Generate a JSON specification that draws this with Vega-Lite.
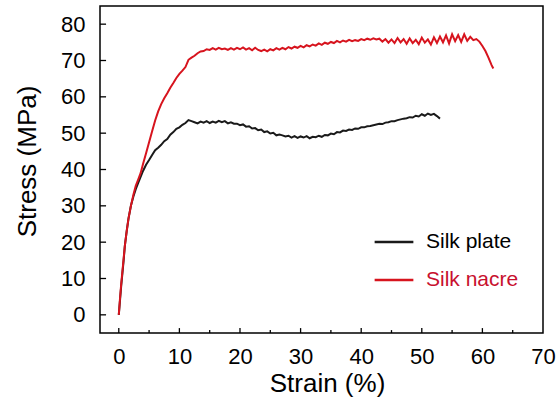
{
  "$schema": "https://vega.github.io/schema/vega-lite/v6.json",
  "autosize": {"type": "none"},
  "padding": {"left": 100, "top": 6, "right": 16, "bottom": 78},
  "width": 443,
  "height": 327,
  "background": "white",
  "config": {
    "view": {"stroke": "#000000", "strokeWidth": 1.5},
    "font": "Liberation Sans"
  },
  "datasets": {
    "curves": [
    {"s":"Silk plate","x":0,"y":0},{"s":"Silk plate","x":0.2,"y":4},{"s":"Silk plate","x":0.4,"y":8},{"s":"Silk plate","x":0.6,"y":11.5},{"s":"Silk plate","x":0.8,"y":15},{"s":"Silk plate","x":1.0,"y":19},{"s":"Silk plate","x":1.3,"y":23},{"s":"Silk plate","x":1.6,"y":26.5},{"s":"Silk plate","x":2.0,"y":30},{"s":"Silk plate","x":2.4,"y":32.5},{"s":"Silk plate","x":2.8,"y":34.6},{"s":"Silk plate","x":3.2,"y":36.3},{"s":"Silk plate","x":3.6,"y":38},{"s":"Silk plate","x":4.0,"y":39.6},{"s":"Silk plate","x":4.5,"y":41.3},{"s":"Silk plate","x":5.0,"y":42.6},{"s":"Silk plate","x":5.5,"y":44},{"s":"Silk plate","x":6.0,"y":45.3},{"s":"Silk plate","x":6.5,"y":46},{"s":"Silk plate","x":7.0,"y":46.8},{"s":"Silk plate","x":7.5,"y":47.8},{"s":"Silk plate","x":8.0,"y":48.4},{"s":"Silk plate","x":8.5,"y":49.6},{"s":"Silk plate","x":9.0,"y":50.3},{"s":"Silk plate","x":9.5,"y":51.2},{"s":"Silk plate","x":10.0,"y":51.6},{"s":"Silk plate","x":10.5,"y":52.3},{"s":"Silk plate","x":11.0,"y":52.8},{"s":"Silk plate","x":11.5,"y":53.6},{"s":"Silk plate","x":12.0,"y":53.3},{"s":"Silk plate","x":12.5,"y":53.0},{"s":"Silk plate","x":13.0,"y":52.7},{"s":"Silk plate","x":13.5,"y":53.2},{"s":"Silk plate","x":14.0,"y":52.9},{"s":"Silk plate","x":14.5,"y":53.3},{"s":"Silk plate","x":15.0,"y":52.8},{"s":"Silk plate","x":15.5,"y":53.2},{"s":"Silk plate","x":16.0,"y":52.9},{"s":"Silk plate","x":16.5,"y":53.4},{"s":"Silk plate","x":17.0,"y":53.0},{"s":"Silk plate","x":17.5,"y":53.3},{"s":"Silk plate","x":18.0,"y":52.7},{"s":"Silk plate","x":18.5,"y":53.0},{"s":"Silk plate","x":19.0,"y":52.6},{"s":"Silk plate","x":19.5,"y":52.6},{"s":"Silk plate","x":20.0,"y":52.2},{"s":"Silk plate","x":20.5,"y":52.4},{"s":"Silk plate","x":21.0,"y":51.8},{"s":"Silk plate","x":21.5,"y":51.9},{"s":"Silk plate","x":22.0,"y":51.3},{"s":"Silk plate","x":22.5,"y":51.4},{"s":"Silk plate","x":23.0,"y":50.8},{"s":"Silk plate","x":23.5,"y":51.0},{"s":"Silk plate","x":24.0,"y":50.3},{"s":"Silk plate","x":24.5,"y":50.5},{"s":"Silk plate","x":25.0,"y":49.9},{"s":"Silk plate","x":25.5,"y":50.1},{"s":"Silk plate","x":26.0,"y":49.4},{"s":"Silk plate","x":26.5,"y":49.6},{"s":"Silk plate","x":27.0,"y":49.4},{"s":"Silk plate","x":27.5,"y":49.1},{"s":"Silk plate","x":28.0,"y":49.3},{"s":"Silk plate","x":28.5,"y":48.8},{"s":"Silk plate","x":29.0,"y":49.2},{"s":"Silk plate","x":29.5,"y":48.7},{"s":"Silk plate","x":30.0,"y":49.1},{"s":"Silk plate","x":30.5,"y":48.8},{"s":"Silk plate","x":31.0,"y":49.2},{"s":"Silk plate","x":31.5,"y":48.6},{"s":"Silk plate","x":32.0,"y":49.0},{"s":"Silk plate","x":32.5,"y":48.9},{"s":"Silk plate","x":33.0,"y":49.3},{"s":"Silk plate","x":33.5,"y":49.0},{"s":"Silk plate","x":34.0,"y":49.5},{"s":"Silk plate","x":34.5,"y":49.4},{"s":"Silk plate","x":35.0,"y":49.9},{"s":"Silk plate","x":35.5,"y":49.7},{"s":"Silk plate","x":36.0,"y":50.3},{"s":"Silk plate","x":36.5,"y":50.2},{"s":"Silk plate","x":37.0,"y":50.7},{"s":"Silk plate","x":37.5,"y":50.6},{"s":"Silk plate","x":38.0,"y":51.0},{"s":"Silk plate","x":38.5,"y":50.9},{"s":"Silk plate","x":39.0,"y":51.3},{"s":"Silk plate","x":39.5,"y":51.2},{"s":"Silk plate","x":40.0,"y":51.6},{"s":"Silk plate","x":40.5,"y":51.6},{"s":"Silk plate","x":41.0,"y":51.9},{"s":"Silk plate","x":41.5,"y":52.0},{"s":"Silk plate","x":42.0,"y":52.2},{"s":"Silk plate","x":42.5,"y":52.4},{"s":"Silk plate","x":43.0,"y":52.6},{"s":"Silk plate","x":43.5,"y":52.5},{"s":"Silk plate","x":44.0,"y":52.9},{"s":"Silk plate","x":44.5,"y":53.0},{"s":"Silk plate","x":45.0,"y":53.3},{"s":"Silk plate","x":45.5,"y":53.3},{"s":"Silk plate","x":46.0,"y":53.6},{"s":"Silk plate","x":46.5,"y":53.8},{"s":"Silk plate","x":47.0,"y":54.0},{"s":"Silk plate","x":47.5,"y":54.1},{"s":"Silk plate","x":48.0,"y":54.4},{"s":"Silk plate","x":48.5,"y":54.3},{"s":"Silk plate","x":49.0,"y":54.8},{"s":"Silk plate","x":49.5,"y":54.6},{"s":"Silk plate","x":50.0,"y":55.2},{"s":"Silk plate","x":50.5,"y":54.8},{"s":"Silk plate","x":51.0,"y":55.4},{"s":"Silk plate","x":51.5,"y":55.0},{"s":"Silk plate","x":52.0,"y":55.3},{"s":"Silk plate","x":52.5,"y":54.7},{"s":"Silk plate","x":53.0,"y":54.0},
    {"s":"Silk nacre","x":0,"y":0},{"s":"Silk nacre","x":0.2,"y":4.5},{"s":"Silk nacre","x":0.4,"y":8.5},{"s":"Silk nacre","x":0.6,"y":12},{"s":"Silk nacre","x":0.8,"y":15.5},{"s":"Silk nacre","x":1.0,"y":19},{"s":"Silk nacre","x":1.3,"y":23},{"s":"Silk nacre","x":1.6,"y":26.5},{"s":"Silk nacre","x":2.0,"y":30},{"s":"Silk nacre","x":2.4,"y":33},{"s":"Silk nacre","x":2.8,"y":35.5},{"s":"Silk nacre","x":3.2,"y":37.2},{"s":"Silk nacre","x":3.6,"y":39},{"s":"Silk nacre","x":4.0,"y":41.5},{"s":"Silk nacre","x":4.5,"y":44.5},{"s":"Silk nacre","x":5.0,"y":47.5},{"s":"Silk nacre","x":5.5,"y":50.5},{"s":"Silk nacre","x":6.0,"y":53.5},{"s":"Silk nacre","x":6.5,"y":56},{"s":"Silk nacre","x":7.0,"y":58},{"s":"Silk nacre","x":7.5,"y":59.6},{"s":"Silk nacre","x":8.0,"y":61},{"s":"Silk nacre","x":8.5,"y":62.5},{"s":"Silk nacre","x":9.0,"y":63.8},{"s":"Silk nacre","x":9.5,"y":65.2},{"s":"Silk nacre","x":10.0,"y":66.3},{"s":"Silk nacre","x":10.5,"y":67.2},{"s":"Silk nacre","x":11.0,"y":68.2},{"s":"Silk nacre","x":11.5,"y":70.2},{"s":"Silk nacre","x":12.0,"y":70.8},{"s":"Silk nacre","x":12.5,"y":71.3},{"s":"Silk nacre","x":13.0,"y":72.0},{"s":"Silk nacre","x":13.5,"y":72.5},{"s":"Silk nacre","x":14.0,"y":72.6},{"s":"Silk nacre","x":14.5,"y":73.1},{"s":"Silk nacre","x":15.0,"y":72.9},{"s":"Silk nacre","x":15.5,"y":73.4},{"s":"Silk nacre","x":16.0,"y":73.0},{"s":"Silk nacre","x":16.5,"y":73.5},{"s":"Silk nacre","x":17.0,"y":73.1},{"s":"Silk nacre","x":17.5,"y":73.3},{"s":"Silk nacre","x":18.0,"y":72.9},{"s":"Silk nacre","x":18.5,"y":73.4},{"s":"Silk nacre","x":19.0,"y":73.0},{"s":"Silk nacre","x":19.5,"y":73.5},{"s":"Silk nacre","x":20.0,"y":73.1},{"s":"Silk nacre","x":20.5,"y":73.6},{"s":"Silk nacre","x":21.0,"y":73.0},{"s":"Silk nacre","x":21.5,"y":73.4},{"s":"Silk nacre","x":22.0,"y":72.8},{"s":"Silk nacre","x":22.5,"y":73.5},{"s":"Silk nacre","x":23.0,"y":72.9},{"s":"Silk nacre","x":23.5,"y":72.6},{"s":"Silk nacre","x":24.0,"y":73.0},{"s":"Silk nacre","x":24.5,"y":72.5},{"s":"Silk nacre","x":25.0,"y":73.1},{"s":"Silk nacre","x":25.5,"y":72.8},{"s":"Silk nacre","x":26.0,"y":73.4},{"s":"Silk nacre","x":26.5,"y":73.0},{"s":"Silk nacre","x":27.0,"y":73.5},{"s":"Silk nacre","x":27.5,"y":73.1},{"s":"Silk nacre","x":28.0,"y":73.7},{"s":"Silk nacre","x":28.5,"y":73.3},{"s":"Silk nacre","x":29.0,"y":73.8},{"s":"Silk nacre","x":29.5,"y":73.5},{"s":"Silk nacre","x":30.0,"y":74.0},{"s":"Silk nacre","x":30.5,"y":73.6},{"s":"Silk nacre","x":31.0,"y":74.2},{"s":"Silk nacre","x":31.5,"y":73.9},{"s":"Silk nacre","x":32.0,"y":74.4},{"s":"Silk nacre","x":32.5,"y":74.1},{"s":"Silk nacre","x":33.0,"y":74.7},{"s":"Silk nacre","x":33.5,"y":74.3},{"s":"Silk nacre","x":34.0,"y":74.9},{"s":"Silk nacre","x":34.5,"y":74.6},{"s":"Silk nacre","x":35.0,"y":75.1},{"s":"Silk nacre","x":35.5,"y":74.8},{"s":"Silk nacre","x":36.0,"y":75.4},{"s":"Silk nacre","x":36.5,"y":75.0},{"s":"Silk nacre","x":37.0,"y":75.5},{"s":"Silk nacre","x":37.5,"y":75.2},{"s":"Silk nacre","x":38.0,"y":75.7},{"s":"Silk nacre","x":38.5,"y":75.3},{"s":"Silk nacre","x":39.0,"y":75.6},{"s":"Silk nacre","x":39.5,"y":75.4},{"s":"Silk nacre","x":40.0,"y":75.9},{"s":"Silk nacre","x":40.5,"y":75.6},{"s":"Silk nacre","x":41.0,"y":76.0},{"s":"Silk nacre","x":41.5,"y":75.7},{"s":"Silk nacre","x":42.0,"y":76.1},{"s":"Silk nacre","x":42.5,"y":75.8},{"s":"Silk nacre","x":43.0,"y":76.0},{"s":"Silk nacre","x":43.5,"y":75.2},{"s":"Silk nacre","x":44.0,"y":75.9},{"s":"Silk nacre","x":44.5,"y":74.9},{"s":"Silk nacre","x":45.0,"y":75.8},{"s":"Silk nacre","x":45.5,"y":74.8},{"s":"Silk nacre","x":46.0,"y":76.2},{"s":"Silk nacre","x":46.5,"y":75.0},{"s":"Silk nacre","x":47.0,"y":75.9},{"s":"Silk nacre","x":47.5,"y":74.6},{"s":"Silk nacre","x":48.0,"y":76.1},{"s":"Silk nacre","x":48.5,"y":74.8},{"s":"Silk nacre","x":49.0,"y":75.7},{"s":"Silk nacre","x":49.5,"y":74.5},{"s":"Silk nacre","x":50.0,"y":76.3},{"s":"Silk nacre","x":50.5,"y":74.9},{"s":"Silk nacre","x":51.0,"y":75.8},{"s":"Silk nacre","x":51.5,"y":74.4},{"s":"Silk nacre","x":52.0,"y":76.4},{"s":"Silk nacre","x":52.5,"y":74.8},{"s":"Silk nacre","x":53.0,"y":76.6},{"s":"Silk nacre","x":53.5,"y":75.0},{"s":"Silk nacre","x":54.0,"y":76.9},{"s":"Silk nacre","x":54.5,"y":74.7},{"s":"Silk nacre","x":55.0,"y":77.2},{"s":"Silk nacre","x":55.5,"y":75.3},{"s":"Silk nacre","x":56.0,"y":77.0},{"s":"Silk nacre","x":56.5,"y":75.1},{"s":"Silk nacre","x":57.0,"y":77.2},{"s":"Silk nacre","x":57.5,"y":75.4},{"s":"Silk nacre","x":58.0,"y":76.5},{"s":"Silk nacre","x":58.5,"y":75.6},{"s":"Silk nacre","x":59.0,"y":75.9},{"s":"Silk nacre","x":59.5,"y":75.2},{"s":"Silk nacre","x":60.0,"y":74.0},{"s":"Silk nacre","x":60.5,"y":72.6},{"s":"Silk nacre","x":61.0,"y":70.8},{"s":"Silk nacre","x":61.5,"y":68.8},{"s":"Silk nacre","x":61.8,"y":67.8}
    ],
    "yticks": [{"v":0},{"v":10},{"v":20},{"v":30},{"v":40},{"v":50},{"v":60},{"v":70},{"v":80}],
    "xmajor": [{"v":0},{"v":10},{"v":20},{"v":30},{"v":40},{"v":50},{"v":60}],
    "xminor": [{"v":5},{"v":15},{"v":25},{"v":35},{"v":45},{"v":55},{"v":65}]
  },
  "layer": [
    {
      "data": {"name": "curves"},
      "mark": {"type": "line", "strokeWidth": 2, "clip": true},
      "encoding": {
        "x": {
          "field": "x", "type": "quantitative",
          "scale": {"domain": [-3.1, 70], "nice": false, "zero": false},
          "axis": {
            "title": "Strain (%)",
            "values": [0,10,20,30,40,50,60,70],
            "grid": false, "domain": false, "ticks": false,
            "labelFont": "Liberation Sans", "labelFontSize": 22, "labelColor": "#000000",
            "labelPadding": 13, "labelFlush": false,
            "titleFont": "Liberation Sans", "titleFontSize": 26, "titleFontWeight": "normal", "titleColor": "#000000",
            "titleX": 227, "titleY": 37, "titleBaseline": "top"
          }
        },
        "y": {
          "field": "y", "type": "quantitative",
          "scale": {"domain": [-5, 85], "nice": false, "zero": false},
          "axis": {
            "title": "Stress (MPa)",
            "values": [0,10,20,30,40,50,60,70,80],
            "grid": false, "domain": false, "ticks": false,
            "labelFont": "Liberation Sans", "labelFontSize": 22, "labelColor": "#000000",
            "labelPadding": 15, "labelFlush": false,
            "titleFont": "Liberation Sans", "titleFontSize": 26, "titleFontWeight": "normal", "titleColor": "#000000",
            "titleX": -60, "titleY": 155, "titleBaseline": "bottom", "titleAngle": -90
          }
        },
        "color": {
          "field": "s", "type": "nominal",
          "scale": {"domain": ["Silk plate", "Silk nacre"], "range": ["#1a1a1a", "#d7141e"]},
          "legend": {
            "title": null,
            "orient": "none",
            "legendX": 273,
            "legendY": 215,
            "symbolType": "stroke",
            "symbolSize": 1500,
            "symbolStrokeWidth": 2.5,
            "labelFont": "Liberation Sans",
            "labelFontSize": 21,
            "labelOffset": 11,
            "rowPadding": 7,
            "encode": {"labels": {"update": {"fill": {"signal": "datum.value == 'Silk nacre' ? '#c8102e' : '#000000'"}}}}
          }
        }
      }
    },
    {
      "data": {"name": "yticks"},
      "mark": {"type": "rule", "color": "#000000", "strokeWidth": 1.3},
      "encoding": {
        "y": {"field": "v", "type": "quantitative", "title": "Stress (MPa)"},
        "x": {"datum": -3.1, "type": "quantitative"},
        "x2": {"datum": -2.1}
      }
    },
    {
      "data": {"name": "xmajor"},
      "mark": {"type": "rule", "color": "#000000", "strokeWidth": 1.3},
      "encoding": {
        "x": {"field": "v", "type": "quantitative", "title": "Strain (%)"},
        "y": {"datum": -5, "type": "quantitative"},
        "y2": {"datum": -3.65}
      }
    },
    {
      "data": {"name": "xminor"},
      "mark": {"type": "rule", "color": "#000000", "strokeWidth": 1.3},
      "encoding": {
        "x": {"field": "v", "type": "quantitative", "title": "Strain (%)"},
        "y": {"datum": -5, "type": "quantitative"},
        "y2": {"datum": -4.2}
      }
    }
  ]
}
